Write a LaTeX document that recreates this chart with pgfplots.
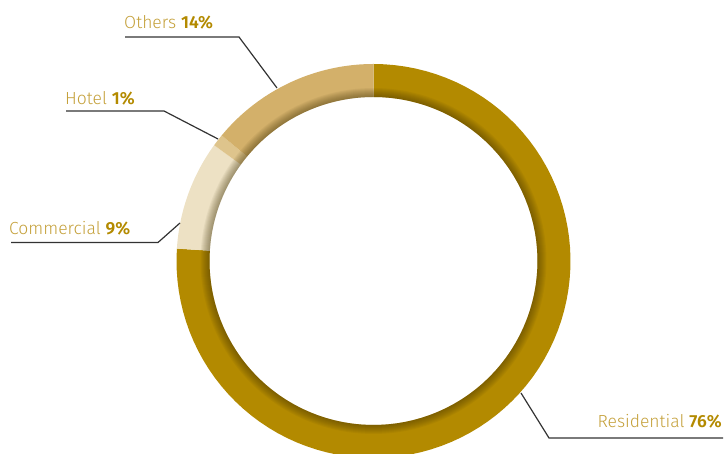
\documentclass[border=0pt]{standalone}
\usepackage{pgfplots}
\usepackage{pgfplotstable}
\pgfplotsset{compat=1.18}
\usepackage{fontspec}
\setmainfont{Fira Sans}[UprightFont=* Light, BoldFont=* SemiBold]
\definecolor{resid}{HTML}{B38A00}
\definecolor{comm}{HTML}{EDE1C4}
\definecolor{hotel}{HTML}{DEC48C}
\definecolor{others}{HTML}{D3B06A}
\definecolor{labelc}{HTML}{C4A03A}
\definecolor{boldc}{HTML}{B38A00}
\definecolor{leader}{HTML}{333333}
\definecolor{shadowc}{HTML}{3A2C00}
\pgfplotstableread{
label value color
Residential 76 resid
Commercial 9 comm
Hotel 1 hotel
Others 14 others
}\piedata
\newcommand{\lbl}[2]{\fontsize{17.5}{20}\selectfont{\color{labelc}#1} {\color{boldc}\bfseries #2}}
\begin{document}
\begin{tikzpicture}
\begin{axis}[
  x=1pt, y=1pt,
  xmin=0, xmax=724, ymin=0, ymax=454,
  hide axis,
  clip=true,
]
\pgfplotsextra{
  \path (0,0) rectangle (724,454);
  \def\cx{373.5}\def\cy{193}\def\R{197}\def\r{164}
  \gdef\cum{0}
  \foreach \i in {0,...,3} {
    \pgfplotstablegetelem{\i}{value}\of\piedata \let\v\pgfplotsretval
    \pgfplotstablegetelem{\i}{color}\of\piedata \let\c\pgfplotsretval
    \pgfmathsetmacro\a{90-3.6*\cum}
    \pgfmathsetmacro\b{90-3.6*(\cum+\v)}
    \pgfmathsetmacro\newcum{\cum+\v}
    \xdef\cum{\newcum}
    \fill[fill=\c] plot[domain=\a:\b, samples=90] ({\cx+\R*cos(\x)},{\cy+\R*sin(\x)})
      -- plot[domain=\b:\a, samples=90] ({\cx+\r*cos(\x)},{\cy+\r*sin(\x)}) -- cycle;
  }
  % inner shadow
  \foreach \k in {1,...,9} {
    \fill[shadowc, opacity=0.055, even odd rule]
      plot[domain=0:360, samples=180] ({\cx+(\r+\k)*cos(\x)},{\cy+(\r+\k)*sin(\x)}) -- cycle
      plot[domain=0:360, samples=180] ({\cx+\r*cos(\x)},{\cy+\r*sin(\x)}) -- cycle;
  }
  % leader lines
  \draw[leader, line width=1.2pt] (125,417) -- (239,417) -- (277,366);
  \draw[leader, line width=1.2pt] (66,343) -- (164,343) -- (218,315);
  \draw[leader, line width=1.2pt] (11,211.5) -- (158,211.5) -- (180,231);
  \draw[leader, line width=1.2pt] (521,61) -- (549,16) -- (723,16);
  \node[anchor=base west, inner sep=0pt] at (124,425) {\lbl{Others}{14\%}};
  \node[anchor=base west, inner sep=0pt] at (65,349) {\lbl{Hotel}{1\%}};
  \node[anchor=base west, inner sep=0pt] at (9,219) {\lbl{Commercial}{9\%}};
  \node[anchor=base east, inner sep=0pt] at (722,26) {\lbl{Residential}{76\%}};
}
\end{axis}
\end{tikzpicture}
\end{document}
